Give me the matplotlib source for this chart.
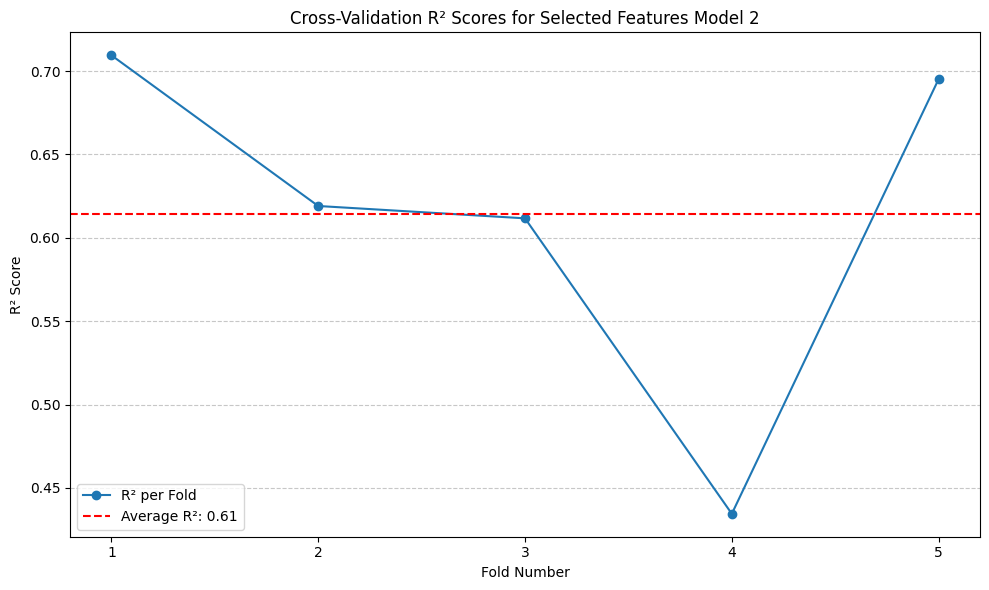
import matplotlib
matplotlib.use("Agg")
import matplotlib.pyplot as plt
import numpy as np

folds = [1, 2, 3, 4, 5]
r2_scores = [0.7095, 0.6191, 0.6117, 0.4345, 0.6952]
avg = float(np.mean(r2_scores))

fig, ax = plt.subplots(figsize=(10, 6), dpi=100)
ax.plot(folds, r2_scores, marker='o', linestyle='-', label='R² per Fold')
ax.axhline(avg, color='red', linestyle='--', label=f'Average R²: {avg:.2f}')
ax.set_title('Cross-Validation R² Scores for Selected Features Model 2')
ax.set_xlabel('Fold Number')
ax.set_ylabel('R² Score')
ax.set_xticks(folds)
ax.grid(axis='y', linestyle='--', alpha=0.7)
ax.legend(loc='lower left')
fig.tight_layout()
fig.savefig('out.png', dpi=100, bbox_inches='tight')
